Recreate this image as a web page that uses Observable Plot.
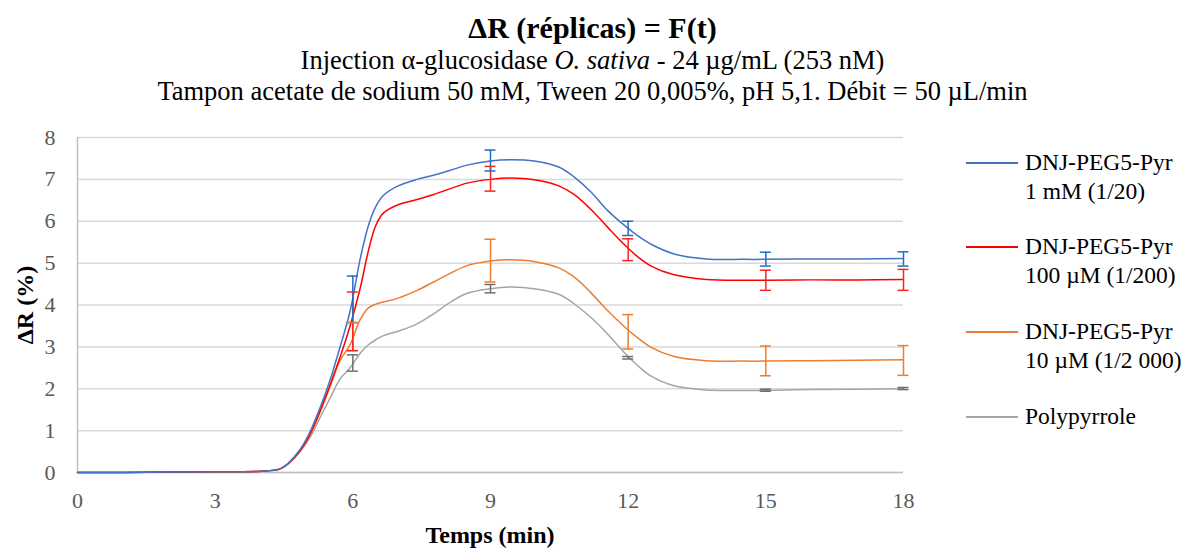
<!DOCTYPE html>
<html>
<head>
<meta charset="utf-8">
<script src="https://cdn.jsdelivr.net/npm/d3@7"></script>
<script src="https://cdn.jsdelivr.net/npm/@observablehq/plot@0.6"></script>
<style>
  html, body { margin: 0; padding: 0; background: #fff; font-family: "Liberation Serif", "DejaVu Serif", serif; }
  #wrap { position: relative; width: 1185px; height: 548px; }
  .t { position: absolute; white-space: nowrap; color: #000; font-family: "Liberation Serif", "DejaVu Serif", serif; }
  #title { left: 0; width: 1185px; text-align: center; top: 13px; font-size: 30px; font-weight: bold; line-height: 1; }
  #sub1 { left: 0; width: 1185px; text-align: center; top: 47px; font-size: 26.5px; line-height: 1; }
  #sub2 { left: 0; width: 1185px; text-align: center; top: 78px; font-size: 26.5px; line-height: 1; }
  #xlab { left: 77px; width: 826px; text-align: center; top: 523px; font-size: 24px; font-weight: bold; line-height: 1; }
  #ylab { left: 25px; top: 305px; font-size: 24px; font-weight: bold; line-height: 1; transform: translate(-50%, -50%) rotate(-90deg); }
  .leg { position: absolute; left: 966px; font-size: 23.5px; line-height: 29px; color: #000; font-family: "Liberation Serif", "DejaVu Serif", serif; }
  .leg .sw { position: absolute; left: 0; top: 14px; width: 52px; height: 0; border-top: 2px solid; }
  .leg .lt { position: absolute; left: 59px; top: 0; white-space: nowrap; }
  #chart { position: absolute; left: 0; top: 0; }
</style>
</head>
<body>
<div id="wrap">
  <div id="chart"></div>
  <div class="t" id="title">ΔR (réplicas) = F(t)</div>
  <div class="t" id="sub1">Injection α-glucosidase <i>O. sativa</i> - 24 µg/mL (253 nM)</div>
  <div class="t" id="sub2">Tampon acetate de sodium 50 mM, Tween 20 0,005%, pH 5,1. Débit = 50 µL/min</div>
  <div class="t" id="xlab">Temps (min)</div>
  <div class="t" id="ylab">ΔR (%)</div>
  <div id="legend"></div>
</div>
<script>
// ---- data ----
const seriesNames = ["DNJ-PEG5-Pyr\n1 mM (1/20)", "DNJ-PEG5-Pyr\n100 µM (1/200)", "DNJ-PEG5-Pyr\n10 µM (1/2 000)", "Polypyrrole"];
const seriesColors = ["#4472C4", "#FF0000", "#ED7D31", "#A5A5A5"];
const errColors = ["#1F6FC5", "#FF2020", "#ED7D31", "#6E6E6E"];

const time = [0, 1, 2, 3, 3.5, 4, 4.4, 4.6, 4.85, 5.07, 5.29, 5.51, 5.72, 5.94, 6.16, 6.34, 6.5, 6.67, 7.0, 7.4, 7.76, 8.13, 8.49, 9.0, 9.44, 9.95, 10.5, 10.82, 11.19, 11.55, 11.92, 12.2, 12.5, 13.0, 13.7, 14.5, 15, 16, 17, 18];

const blue   = [0, 0, 0.01, 0.02, 0.02, 0.03, 0.08, 0.23, 0.55, 0.98, 1.56, 2.23, 2.99, 3.85, 5.1, 5.9, 6.35, 6.62, 6.85, 7.0, 7.1, 7.22, 7.34, 7.44, 7.47, 7.44, 7.29, 7.06, 6.70, 6.26, 5.90, 5.66, 5.45, 5.22, 5.1, 5.09, 5.09, 5.1, 5.1, 5.11];
const red    = [0, 0, 0.01, 0.02, 0.02, 0.03, 0.08, 0.22, 0.52, 0.92, 1.48, 2.11, 2.75, 3.5, 4.4, 5.3, 5.9, 6.2, 6.4, 6.52, 6.64, 6.78, 6.91, 7.0, 7.03, 6.99, 6.84, 6.64, 6.28, 5.86, 5.44, 5.16, 4.93, 4.72, 4.61, 4.59, 4.59, 4.6, 4.6, 4.61];
const orange = [0, 0, 0.01, 0.02, 0.02, 0.03, 0.08, 0.22, 0.52, 0.9, 1.45, 2.07, 2.67, 3.05, 3.65, 3.93, 4.02, 4.07, 4.17, 4.35, 4.55, 4.76, 4.94, 5.05, 5.08, 5.04, 4.88, 4.67, 4.29, 3.87, 3.48, 3.22, 2.99, 2.77, 2.67, 2.66, 2.66, 2.67, 2.68, 2.69];
const gray   = [0, 0, 0.01, 0.02, 0.02, 0.03, 0.08, 0.21, 0.5, 0.84, 1.32, 1.79, 2.23, 2.5, 2.85, 3.05, 3.17, 3.27, 3.38, 3.55, 3.79, 4.07, 4.28, 4.39, 4.43, 4.39, 4.25, 4.03, 3.70, 3.31, 2.86, 2.56, 2.30, 2.07, 1.97, 1.96, 1.96, 1.98, 1.99, 2.0];

const errTime = [6, 9, 12, 15, 18];
const blueLow   = [3.58, 7.20, 5.66, 4.93, 4.93];
const blueHigh  = [4.69, 7.70, 6.00, 5.26, 5.27];
const redLow    = [2.91, 6.72, 5.06, 4.35, 4.35];
const redHigh   = [4.31, 7.31, 5.58, 4.83, 4.85];
const orangeLow  = [2.91, 4.55, 2.95, 2.31, 2.32];
const orangeHigh = [3.58, 5.57, 3.77, 3.02, 3.03];
const grayLow   = [2.42, 4.29, 2.71, 1.94, 1.98];
const grayHigh  = [2.81, 4.49, 2.77, 1.99, 2.03];

const xTicks = [0, 3, 6, 9, 12, 15, 18];
const yTicks = [0, 1, 2, 3, 4, 5, 6, 7, 8];

// ---- build tables ----
const values = [blue, red, orange, gray];
const lows = [blueLow, redLow, orangeLow, grayLow];
const highs = [blueHigh, redHigh, orangeHigh, grayHigh];

const lines = [];
values.forEach((arr, s) => arr.forEach((v, i) => lines.push({s, t: time[i], v})));
const errs = [];
lows.forEach((arr, s) => arr.forEach((lo, i) => errs.push({s, t: errTime[i], lo, hi: highs[s][i]})));

const capHalf = 0.12; // minutes, half width of error caps

const chart = Plot.plot({
  width: 1185,
  height: 548,
  marginLeft: 77,
  marginRight: 282,
  marginTop: 137,
  marginBottom: 76,
  style: {fontFamily: "'Liberation Serif', 'DejaVu Serif', serif", fontSize: "22px", color: "#595959", background: "transparent"},
  x: {domain: [0, 18]},
  y: {domain: [0, 8]},
  marks: [
    Plot.gridY(yTicks, {stroke: "#D9D9D9", strokeOpacity: 1, strokeWidth: 1.5}),
    Plot.ruleX([0], {stroke: "#BFBFBF", strokeWidth: 1.5}),
    Plot.ruleY([0], {stroke: "#BFBFBF", strokeWidth: 1.5}),
    Plot.axisX(xTicks, {tickSize: 0, tickPadding: 20, label: null, fill: "#595959", tickFormat: d => String(d)}),
    Plot.axisY(yTicks, {tickSize: 0, tickPadding: 22, label: null, fill: "#595959", tickFormat: d => String(d)}),
    ...[3, 2, 1, 0].map(s => Plot.line(lines.filter(d => d.s === s), {x: "t", y: "v", stroke: seriesColors[s], strokeWidth: 1.5, curve: "catmull-rom"})),
    ...[3, 2, 1, 0].map(s => Plot.ruleX(errs.filter(d => d.s === s), {x: "t", y1: "lo", y2: "hi", stroke: errColors[s], strokeWidth: 1.5})),
    ...[3, 2, 1, 0].map(s => Plot.ruleY(errs.filter(d => d.s === s), {y: "lo", x1: d => d.t - capHalf, x2: d => d.t + capHalf, stroke: errColors[s], strokeWidth: 1.5})),
    ...[3, 2, 1, 0].map(s => Plot.ruleY(errs.filter(d => d.s === s), {y: "hi", x1: d => d.t - capHalf, x2: d => d.t + capHalf, stroke: errColors[s], strokeWidth: 1.5}))
  ]
});
document.getElementById("chart").appendChild(chart);

// ---- legend ----
const legTops = [148, 232, 317, 402];
const legend = document.getElementById("legend");
seriesNames.forEach((name, s) => {
  const item = document.createElement("div");
  item.className = "leg";
  item.style.top = legTops[s] + "px";
  const sw = document.createElement("div");
  sw.className = "sw";
  sw.style.borderTopColor = seriesColors[s];
  item.appendChild(sw);
  const lt = document.createElement("div");
  lt.className = "lt";
  lt.innerHTML = name.split("\n").join("<br>");
  item.appendChild(lt);
  legend.appendChild(item);
});
</script>
</body>
</html>
